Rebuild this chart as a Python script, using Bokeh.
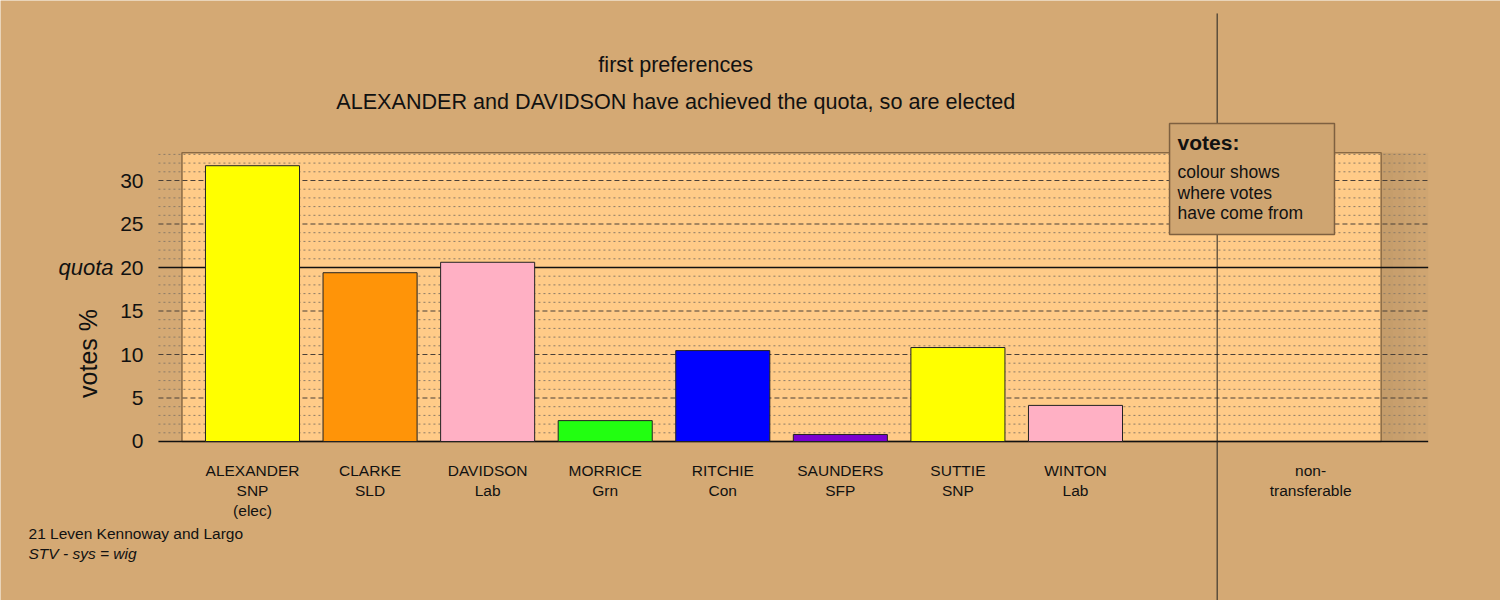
import math
from bokeh.plotting import figure
from bokeh.models import Range1d
from bokeh.core.properties import value
from bokeh.embed import file_html
from bokeh.resources import INLINE

# ---- data ----
candidates = ["ALEXANDER", "CLARKE", "DAVIDSON", "MORRICE", "RITCHIE", "SAUNDERS", "SUTTIE", "WINTON"]
parties = ["SNP", "SLD", "Lab", "Grn", "Con", "SFP", "SNP", "Lab"]
status = ["(elec)", "", "", "", "", "", "", ""]
votes_pct = [31.7, 19.4, 20.6, 2.4, 10.45, 0.8, 10.8, 4.15]
bar_colors = ["#FFFF00", "#FF9408", "#FFB0C4", "#22FF11", "#0000FF", "#7A00D2", "#FFFF00", "#FFB0C4"]
nontrans_label = ["non-", "transferable"]
quota = 20
y_ticks = [0, 5, 10, 15, 20, 25, 30]
y_tick_labels = ["0", "5", "10", "15", "20", "25", "30"]
title_lines = ["first preferences", "ALEXANDER and DAVIDSON have achieved the quota, so are elected"]
legend_title = "votes:"
legend_lines = ["colour shows", "where votes", "have come from"]
footer_lines = ["21 Leven Kennoway and Largo", "STV - sys = wig"]

BG = "#D4A974"
PANEL = "#FFCB88"
FONT = value("Liberation Sans")
INK = "#111111"

xs = list(range(len(candidates)))
nt_x = len(candidates) + 1

# scales: 117.57 px per category, 8.7 px per vote-% unit
p = figure(width=1500, height=600, output_backend="svg", toolbar_location=None,
           x_range=Range1d(-2.1434, 10.615), y_range=Range1d(-18.276, 50.69),
           x_axis_location=None, y_axis_location=None,
           min_border_left=0, min_border_right=0, min_border_top=0, min_border_bottom=0,
           background_fill_color=BG, border_fill_color=BG, outline_line_color=None)
p.grid.visible = False

gx0, gx1 = -0.8, 10.0          # extent of the ruled area
px0, px1 = -0.6, len(candidates) + 1.6   # light panel
top_panel = 33.2

# panel and shadow
p.quad(left=[px0], right=[px1], bottom=[0], top=[top_panel],
       fill_color=PANEL, line_color=None)
for i, a in enumerate([0.07, 0.055, 0.04, 0.025]):
    x0 = px1 + i * 0.1
    p.quad(left=[x0], right=[x0 + 0.1], bottom=[0], top=[top_panel],
           fill_color="black", fill_alpha=a, line_color=None)
p.quad(left=[px0], right=[px1], bottom=[0], top=[top_panel],
       fill_color=None, line_color="#8A6A44", line_width=1.5)

# rulings
minor = [v for v in range(1, 34) if v % 5 != 0]
dashed = [v for v in range(5, 34, 5) if v != quota]
solid = [0, quota]
p.segment(x0=[gx0] * len(minor), x1=[gx1] * len(minor), y0=minor, y1=minor,
          line_color="#8C7C68", line_dash="2 3", line_width=1)
p.segment(x0=[gx0] * len(dashed), x1=[gx1] * len(dashed), y0=dashed, y1=dashed,
          line_color="#4A4038", line_dash="5 3", line_width=1)
p.segment(x0=[gx0] * len(solid), x1=[gx1] * len(solid), y0=solid, y1=solid,
          line_color=INK, line_width=1.5)

# y tick labels
p.text(x=[-0.927] * len(y_ticks), y=y_ticks, text=y_tick_labels, text_font=FONT,
       text_font_size="21px", text_align="right", text_baseline="middle", text_color=INK)
p.text(x=[-1.182], y=[quota], text=["quota"], text_font=FONT, text_font_size="22px",
       text_font_style="italic", text_align="right", text_baseline="middle", text_color=INK)
p.text(x=[-1.395], y=[10.115], text=["votes %"], angle=math.pi / 2, text_font=FONT,
       text_font_size="25px", text_align="center", text_baseline="middle", text_color=INK)

# bars
p.vbar(x=xs, top=votes_pct, width=0.8, fill_color=bar_colors, line_color="#222222", line_width=1)

# vertical divider and legend box
p.segment(x0=[8.205], x1=[8.205], y0=[49.2], y1=[-20], line_color="#222222", line_width=1)
p.quad(left=[7.8], right=[9.203], top=[36.55], bottom=[23.79],
       fill_color="#CFA571", line_color="#7E6040", line_width=1.5)
p.text(x=[7.868], y=[34.37], text=[legend_title], text_font=FONT, text_font_size="21px",
       text_font_style="bold", text_baseline="middle", text_align="left", text_color=INK)
p.text(x=[7.868] * 3, y=[30.92, 28.62, 26.21], text=legend_lines, text_font=FONT,
       text_font_size="17.5px", text_baseline="middle", text_align="left", text_color=INK)

# titles
p.text(x=[3.6, 3.6], y=[43.33, 39.08], text=title_lines, text_font=FONT, text_font_size="21.6px",
       text_align="center", text_baseline="middle", text_color=INK)

# category labels
row_y = [-3.333, -5.632, -7.931]
lab_kw = dict(text_font=FONT, text_font_size="15.5px", text_align="center",
              text_baseline="middle", text_color=INK)
p.text(x=xs, y=[row_y[0]] * len(xs), text=candidates, **lab_kw)
p.text(x=xs, y=[row_y[1]] * len(xs), text=parties, **lab_kw)
p.text(x=xs, y=[row_y[2]] * len(xs), text=status, **lab_kw)
p.text(x=[nt_x, nt_x], y=row_y[:2], text=nontrans_label, **lab_kw)

# footer
p.text(x=[-1.905], y=[-10.575], text=[footer_lines[0]], text_font=FONT, text_font_size="15.5px",
       text_align="left", text_baseline="middle", text_color=INK)
p.text(x=[-1.905], y=[-12.874], text=[footer_lines[1]], text_font=FONT, text_font_size="15.5px",
       text_font_style="italic", text_align="left", text_baseline="middle", text_color=INK)

open("out.html", "w").write(file_html(p, INLINE))
